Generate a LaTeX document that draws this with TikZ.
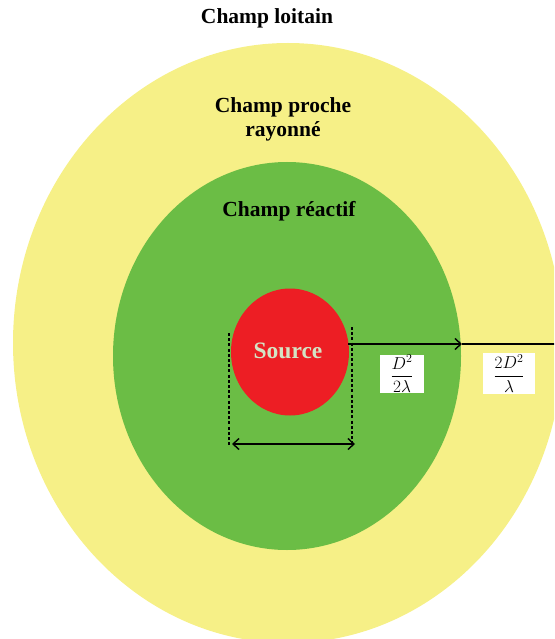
\documentclass[tikz,border=0pt]{standalone}
\usepackage{fontspec}
\setmainfont{Liberation Serif}
\usetikzlibrary{shapes.geometric,arrows.meta}
\definecolor{farY}{RGB}{246,240,135}
\definecolor{reacG}{RGB}{107,189,69}
\definecolor{srcR}{RGB}{237,30,36}
\definecolor{srcT}{RGB}{212,228,196}
\tikzset{
  zone/.style={ellipse, inner sep=0pt, draw=none},
  ttl/.style={font=\fontsize{21.5}{24}\selectfont\bfseries, align=center, inner sep=0pt},
  lbl/.style={fill=white, inner sep=0pt, font=\fontsize{16.5}{18}\selectfont},
  dimline/.style={line width=1.5pt, dash pattern=on 3pt off 2.2pt},
  tip/.tip={Straight Barb[length=6pt,width=11pt,line width=1.4pt]},
  arr/.style={line width=1.5pt, -tip},
}
\begin{document}
\begin{tikzpicture}[x=1pt,y=-1pt]
\useasboundingbox (0,0) rectangle (554,639);
\clip (0,0) rectangle (554,639);
\node[zone, fill=farY, minimum width=550pt, minimum height=600pt] (far) at (288,343) {};
\node[zone, fill=reacG, minimum width=348pt, minimum height=388pt] (reac) at (287,356) {};
\node[zone, fill=srcR, minimum width=118pt, minimum height=127pt] (src) at (290,352) {};
\node[ttl] (tfar) at (267,18) {Champ loitain};
\node[ttl] (tnear) at (283,119) {Champ proche\\rayonné};
\node[ttl] (treac) at (289,211) {Champ réactif};
\node[font=\fontsize{23.5}{26}\selectfont\bfseries, text=srcT, inner sep=0pt] (tsrc) at (288,351) {Source};
% dimension lines
\coordinate (dl1) at (229,333);
\coordinate (dl2) at (229,446);
\coordinate (dr1) at (352,327);
\coordinate (dr2) at (352,446);
\draw[dimline] (dl1) -- (dl2);
\draw[dimline] (dr1) -- (dr2);
\coordinate (da) at (232,444);
\coordinate (db) at (355,444);
\draw[line width=1.5pt, tip-tip] (da) -- (db);
% radial arrows
\coordinate (r0) at (348,344);
\coordinate (r1) at (462,344);
\coordinate (r2) at (563,344);
\draw[arr] (r0) -- (r1);
\draw[arr] (r1) -- (r2);
% labels
\node[lbl, minimum width=44pt, minimum height=38pt] (l1) at (402,374) {$\displaystyle\frac{D^2}{2\lambda}$};
\node[lbl, minimum width=52pt, minimum height=41pt] (l2) at (509,373.5) {$\displaystyle\frac{2D^2}{\lambda}$};
\end{tikzpicture}
\end{document}
